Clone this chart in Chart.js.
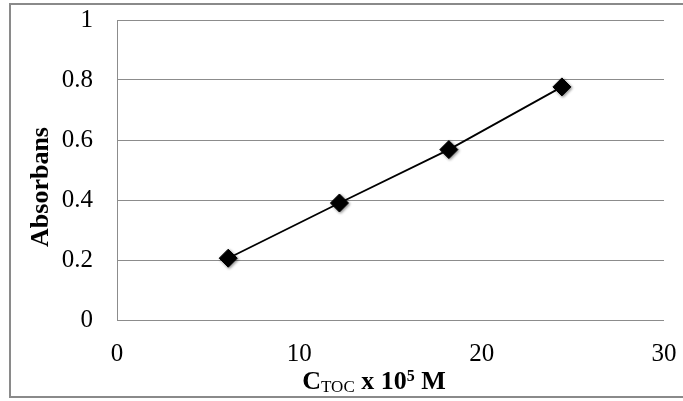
<!DOCTYPE html>
<html>
<head>
<meta charset="utf-8">
<script src="https://cdn.jsdelivr.net/npm/chart.js@4/dist/chart.umd.min.js"></script>
<style>
  html, body { margin: 0; padding: 0; background: #fff; }
  #wrap { width: 683px; height: 401px; }
</style>
</head>
<body>
<div id="wrap"><canvas id="absChart" width="683" height="401"></canvas></div>
<script>
// --- DATA ---
const concentrations = [6.1, 12.2, 18.2, 24.4];   // C_TOC x 10^5 M
const absorbance = [0.206, 0.39, 0.568, 0.777];
const xTickLabels = ['0', '10', '20', '30'];
const yTickLabels = ['0', '0.2', '0.4', '0.6', '0.8', '1'];
const yTitle = 'Absorbans';
const xTitleParts = [
    { text: 'C', kind: 'main' },
    { text: 'TOC', kind: 'sub' },
    { text: ' x 10', kind: 'main' },
    { text: '5', kind: 'sup' },
    { text: ' M', kind: 'main' }
];

const SERIF = '"Liberation Serif", "Times New Roman", serif';
const points = concentrations.map((x, i) => ({ x: x, y: absorbance[i] }));

// outer frame + axis titles (x title has sub/superscript, so drawn by hand)
const decorations = {
    id: 'decorations',
    beforeDraw(chart) {
        const ctx = chart.ctx;
        ctx.save();
        ctx.fillStyle = '#fff';
        ctx.fillRect(0, 0, chart.width, chart.height);
        ctx.strokeStyle = '#8a8a8a';
        ctx.lineWidth = 2;
        ctx.strokeRect(10, 4, chart.width + 20, 393);
        ctx.restore();
    },
    afterDraw(chart) {
        const ctx = chart.ctx;
        ctx.save();
        ctx.fillStyle = '#000';

        // y title
        ctx.font = 'bold 26px ' + SERIF;
        ctx.textAlign = 'center';
        ctx.textBaseline = 'middle';
        ctx.translate(41, 187);
        ctx.rotate(-Math.PI / 2);
        ctx.fillText(yTitle, 0, 0);
        ctx.setTransform(1, 0, 0, 1, 0, 0);

        // x title
        const fonts = {
            main: { font: 'bold 26px ' + SERIF, dy: 0 },
            sub: { font: '17px ' + SERIF, dy: 3 },
            sup: { font: 'bold 16px ' + SERIF, dy: -8 }
        };
        ctx.textAlign = 'left';
        ctx.textBaseline = 'alphabetic';
        let total = 0;
        xTitleParts.forEach(p => {
            ctx.font = fonts[p.kind].font;
            p.w = ctx.measureText(p.text).width;
            total += p.w;
        });
        let x = 374 - total / 2;
        const baseY = 389;
        xTitleParts.forEach(p => {
            ctx.font = fonts[p.kind].font;
            ctx.fillText(p.text, x, baseY + fonts[p.kind].dy);
            x += p.w;
        });
        ctx.restore();
    },
    beforeDatasetDraw(chart, args) {
        if (args.index === 0) {
            chart.ctx.save();
            chart.ctx.shadowColor = 'rgba(0,0,0,0.45)';
            chart.ctx.shadowBlur = 3;
            chart.ctx.shadowOffsetX = 1;
            chart.ctx.shadowOffsetY = 1;
        }
    },
    afterDatasetDraw(chart, args) {
        if (args.index === 0) chart.ctx.restore();
    }
};

new Chart(document.getElementById('absChart').getContext('2d'), {
    type: 'scatter',
    data: {
        datasets: [
            {
                data: points,
                showLine: false,
                pointStyle: 'rectRot',
                pointRadius: 9,
                pointBackgroundColor: '#000',
                pointBorderColor: '#000',
                pointBorderWidth: 1
            },
            {
                data: points,
                showLine: true,
                borderColor: '#000',
                borderWidth: 1.8,
                pointRadius: 0,
                fill: false
            }
        ]
    },
    options: {
        responsive: false,
        animation: false,
        devicePixelRatio: 1,
        layout: { padding: { left: 0, top: 20, right: 19, bottom: 0 } },
        plugins: { legend: { display: false }, tooltip: { enabled: false } },
        scales: {
            x: {
                type: 'linear',
                min: 0, max: 30,
                afterFit(scale) {
                    scale.height = 81;
                    scale.paddingLeft = 0;
                    scale.paddingRight = 0;
                },
                afterBuildTicks(scale) {
                    scale.ticks = xTickLabels.map(t => ({ value: Number(t) }));
                },
                ticks: {
                    callback: (v, i) => xTickLabels[i],
                    color: '#000',
                    font: { family: SERIF, size: 25 },
                    padding: 19,
                    maxRotation: 0
                },
                grid: { display: false, drawTicks: false },
                border: { display: false }
            },
            y: {
                type: 'linear',
                min: 0, max: 1,
                afterFit(scale) {
                    scale.width = 117;
                    scale.paddingTop = 0;
                    scale.paddingBottom = 0;
                },
                afterBuildTicks(scale) {
                    scale.ticks = yTickLabels.map(t => ({ value: Number(t) }));
                },
                ticks: {
                    callback: (v, i) => yTickLabels[i],
                    color: '#000',
                    font: { family: SERIF, size: 25 },
                    padding: 24
                },
                grid: { color: '#8c8c8c', lineWidth: 1, drawTicks: false },
                border: { display: true, color: '#8c8c8c', width: 1 }
            }
        }
    },
    plugins: [decorations]
});
</script>
</body>
</html>
